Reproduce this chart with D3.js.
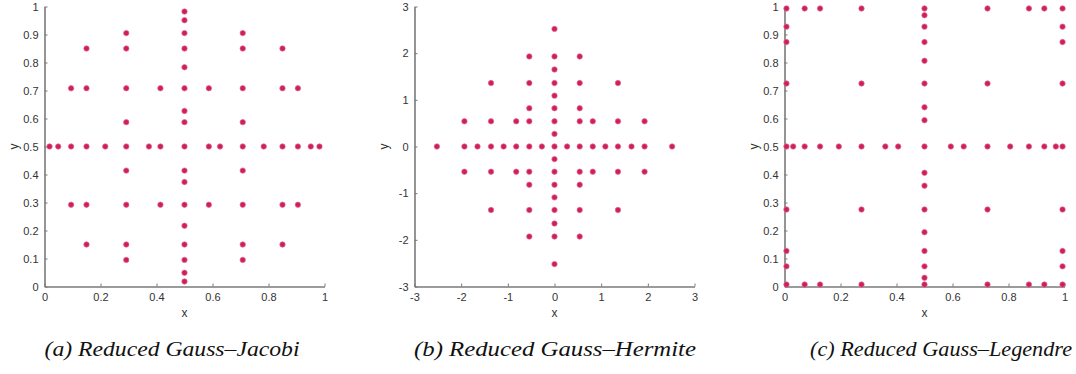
<!DOCTYPE html>
<html>
<head>
<meta charset="utf-8">
<script src="https://cdn.jsdelivr.net/npm/d3@7"></script>
<style>
  html, body { margin: 0; padding: 0; background: #fff; }
  svg { display: block; }
</style>
</head>
<body>
<svg id="chart" width="1076" height="374"></svg>
<script>
// ---- data ----
const jacobiPoints = [
  [0.018,0.5],[0.049,0.5],
  [0.095,0.708],[0.095,0.5],[0.095,0.292],
  [0.15,0.85],[0.15,0.708],[0.15,0.5],[0.15,0.292],[0.15,0.15],
  [0.217,0.5],
  [0.292,0.905],[0.292,0.85],[0.292,0.708],[0.292,0.587],[0.292,0.5],[0.292,0.414],[0.292,0.292],[0.292,0.15],[0.292,0.095],
  [0.373,0.5],
  [0.414,0.708],[0.414,0.5],[0.414,0.292],
  [0.5,0.982],[0.5,0.951],[0.5,0.905],[0.5,0.85],[0.5,0.783],[0.5,0.708],[0.5,0.627],[0.5,0.587],[0.5,0.5],
  [0.5,0.414],[0.5,0.373],[0.5,0.292],[0.5,0.217],[0.5,0.15],[0.5,0.095],[0.5,0.049],[0.5,0.018],
  [0.587,0.708],[0.587,0.5],[0.587,0.292],
  [0.627,0.5],
  [0.708,0.905],[0.708,0.85],[0.708,0.708],[0.708,0.587],[0.708,0.5],[0.708,0.414],[0.708,0.292],[0.708,0.15],[0.708,0.095],
  [0.783,0.5],
  [0.85,0.85],[0.85,0.708],[0.85,0.5],[0.85,0.292],[0.85,0.15],
  [0.905,0.708],[0.905,0.5],[0.905,0.292],
  [0.951,0.5],[0.982,0.5]
];

const hermitePoints = [
  [-2.52,0],
  [-1.93,0.54],[-1.93,0],[-1.93,-0.54],
  [-1.65,0],
  [-1.36,1.36],[-1.36,0.54],[-1.36,0],[-1.36,-0.54],[-1.36,-1.36],
  [-1.09,0],
  [-0.82,0.54],[-0.82,0],[-0.82,-0.54],
  [-0.54,1.93],[-0.54,1.36],[-0.54,0.82],[-0.54,0.54],[-0.54,0],[-0.54,-0.54],[-0.54,-0.82],[-0.54,-1.36],[-0.54,-1.93],
  [-0.27,0],
  [0,2.52],[0,1.93],[0,1.65],[0,1.36],[0,1.09],[0,0.82],[0,0.54],[0,0.27],[0,0],
  [0,-0.27],[0,-0.54],[0,-0.82],[0,-1.09],[0,-1.36],[0,-1.65],[0,-1.93],[0,-2.52],
  [0.27,0],
  [0.54,1.93],[0.54,1.36],[0.54,0.82],[0.54,0.54],[0.54,0],[0.54,-0.54],[0.54,-0.82],[0.54,-1.36],[0.54,-1.93],
  [0.82,0.54],[0.82,0],[0.82,-0.54],
  [1.09,0],
  [1.36,1.36],[1.36,0.54],[1.36,0],[1.36,-0.54],[1.36,-1.36],
  [1.65,0],
  [1.93,0.54],[1.93,0],[1.93,-0.54],
  [2.52,0]
];

const legendrePoints = [
  [0.007,0.993],[0.007,0.928],[0.007,0.873],[0.007,0.725],[0.007,0.5],[0.007,0.275],[0.007,0.127],[0.007,0.072],[0.007,0.007],
  [0.031,0.5],
  [0.072,0.993],[0.072,0.5],[0.072,0.007],
  [0.127,0.993],[0.127,0.5],[0.127,0.007],
  [0.194,0.5],
  [0.275,0.993],[0.275,0.725],[0.275,0.5],[0.275,0.275],[0.275,0.007],
  [0.36,0.5],[0.406,0.5],
  [0.5,0.993],[0.5,0.969],[0.5,0.928],[0.5,0.873],[0.5,0.806],[0.5,0.725],[0.5,0.64],[0.5,0.594],[0.5,0.5],
  [0.5,0.406],[0.5,0.36],[0.5,0.275],[0.5,0.194],[0.5,0.127],[0.5,0.072],[0.5,0.031],[0.5,0.007],
  [0.594,0.5],[0.64,0.5],
  [0.725,0.993],[0.725,0.725],[0.725,0.5],[0.725,0.275],[0.725,0.007],
  [0.806,0.5],
  [0.873,0.993],[0.873,0.5],[0.873,0.007],
  [0.928,0.993],[0.928,0.5],[0.928,0.007],
  [0.969,0.5],
  [0.993,0.993],[0.993,0.928],[0.993,0.873],[0.993,0.725],[0.993,0.5],[0.993,0.275],[0.993,0.127],[0.993,0.072],[0.993,0.007]
];

const unitTicksX = [0, 0.2, 0.4, 0.6, 0.8, 1];
const unitTicksY = [0, 0.1, 0.2, 0.3, 0.4, 0.5, 0.6, 0.7, 0.8, 0.9, 1];
const hermiteTicks = [-3, -2, -1, 0, 1, 2, 3];
const captions = ["(a) Reduced Gauss\u2013Jacobi", "(b) Reduced Gauss\u2013Hermite", "(c) Reduced Gauss\u2013Legendre"];

// ---- layout ----
const panels = [
  { points: jacobiPoints,   domain: [0, 1],  xticks: unitTicksX,   yticks: unitTicksY,   caption: captions[0], capX: 172, capW: 255 },
  { points: hermitePoints,  domain: [-3, 3], xticks: hermiteTicks, yticks: hermiteTicks, caption: captions[1], capX: 555, capW: 282 },
  { points: legendrePoints, domain: [0, 1],  xticks: unitTicksX,   yticks: unitTicksY,   caption: captions[2], capX: 941, capW: 262 }
];
const panelStep = 370, plotLeft = 44.5, plotTop = 6.5, plotSize = 280;
const axisColor = "#7a7a7a", textColor = "#333";

const svg = d3.select("#chart");

panels.forEach((p, i) => {
  const g = svg.append("g").attr("transform", `translate(${i * panelStep + plotLeft},${plotTop})`);
  const x = d3.scaleLinear().domain(p.domain).range([0, plotSize]);
  const y = d3.scaleLinear().domain(p.domain).range([plotSize, 0]);
  const fmt = d3.format("~g");

  const xAxis = g.append("g").attr("transform", `translate(0,${plotSize})`)
    .call(d3.axisBottom(x).tickValues(p.xticks).tickFormat(d => fmt(d).replace("\u2212", "-")).tickSizeInner(-3).tickSizeOuter(0).tickPadding(6));
  const yAxis = g.append("g")
    .call(d3.axisLeft(y).tickValues(p.yticks).tickFormat(d => fmt(d).replace("\u2212", "-")).tickSizeInner(-3).tickSizeOuter(0).tickPadding(6));

  [xAxis, yAxis].forEach(a => {
    a.select(".domain").attr("stroke", axisColor).attr("stroke-width", 1.6);
    a.selectAll(".tick line").attr("stroke", axisColor).attr("stroke-width", 1);
    a.selectAll(".tick text").attr("fill", textColor)
      .style("font-family", "'Liberation Sans', Arial, sans-serif").style("font-size", "11px");
  });
  xAxis.selectAll(".tick text").attr("dy", "0.75em");

  g.append("text").attr("x", plotSize / 2).attr("y", plotSize + 30)
    .attr("text-anchor", "middle").attr("fill", textColor)
    .style("font-family", "'Liberation Sans', Arial, sans-serif").style("font-size", "12px").text("x");
  g.append("text").attr("transform", `translate(${-27},${plotSize / 2}) rotate(-90)`)
    .attr("text-anchor", "middle").attr("fill", textColor)
    .style("font-family", "'Liberation Sans', Arial, sans-serif").style("font-size", "12px").text("y");

  g.append("g").selectAll("circle").data(p.points).join("circle")
    .attr("cx", d => x(d[0])).attr("cy", d => y(d[1])).attr("r", 2.7)
    .attr("fill", "#cf1f58").attr("stroke", "#e26a8f").attr("stroke-width", 0.7);

  svg.append("text")
    .attr("x", p.capX)
    .attr("y", 356)
    .attr("text-anchor", "middle")
    .attr("fill", "#111")
    .attr("textLength", p.capW)
    .attr("lengthAdjust", "spacingAndGlyphs")
    .style("font-family", "'Liberation Serif', 'DejaVu Serif', serif")
    .style("font-style", "italic")
    .style("font-size", "22px")
    .text(p.caption);
});
</script>
</body>
</html>
